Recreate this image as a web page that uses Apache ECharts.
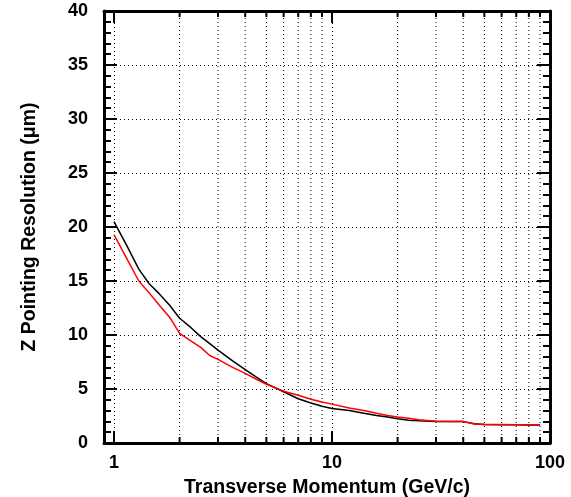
<!DOCTYPE html>
<html>
<head>
<meta charset="utf-8">
<script src="https://cdn.jsdelivr.net/npm/echarts@6/dist/echarts.min.js"></script>
<style>
  html, body { margin: 0; padding: 0; background: #fff; }
  #chart { width: 571px; height: 497px; }
</style>
</head>
<body>
<div id="chart"></div>
<script>
// Data
const momentum = [1, 1.15, 1.3, 1.45, 1.6, 1.8, 2, 2.25, 2.5, 2.75, 3, 3.5, 4, 4.5, 5, 6, 7, 8, 9, 10, 12, 14, 16, 18, 20, 22.5, 25, 30, 35, 40, 45, 50, 60, 70, 80, 90];
const resolutionBlack = [20.5, 18.2, 16.1, 14.75, 13.9, 12.75, 11.55, 10.7, 9.85, 9.2, 8.6, 7.6, 6.8, 6.1, 5.5, 4.75, 4.1, 3.7, 3.4, 3.2, 3.0, 2.75, 2.55, 2.4, 2.25, 2.1, 2.05, 2.0, 2.0, 1.98, 1.78, 1.72, 1.7, 1.68, 1.67, 1.67];
const resolutionRed = [19.3, 17.0, 15.0, 13.9, 12.85, 11.65, 10.16, 9.45, 8.85, 8.1, 7.74, 7.0, 6.44, 5.9, 5.44, 4.8, 4.42, 4.05, 3.8, 3.6, 3.25, 3.0, 2.75, 2.55, 2.4, 2.3, 2.15, 2.02, 2.0, 2.0, 1.75, 1.72, 1.72, 1.7, 1.7, 1.7];
const xMajorLabels = [1, 10, 100];
const xMinorTicks = [2, 3, 4, 5, 6, 7, 8, 9, 20, 30, 40, 50, 60, 70, 80, 90];

const FONT = '"Liberation Sans", Arial, Helvetica, sans-serif';
const dotted = { color: '#000', width: 1, type: [1, 3] };

const chart = echarts.init(document.getElementById('chart'));

const commonX = {
  type: 'log', logBase: 10, min: 0.9, max: 100,
  axisLine: { show: true, onZero: false, lineStyle: { color: '#000', width: 3 } },
  axisTick: { show: true, inside: true, length: 12, lineStyle: { color: '#000', width: 2 } }
};
const commonY = {
  type: 'value', min: 0, max: 40, interval: 5,
  axisLine: { show: true, onZero: false, lineStyle: { color: '#000', width: 3 } },
  axisTick: { show: true, inside: true, length: 13, lineStyle: { color: '#000', width: 2 } },
  minorTick: { show: true, splitNumber: 5, length: 7, lineStyle: { color: '#000', width: 2 } }
};

chart.setOption({
  animation: false,
  backgroundColor: '#fff',
  grid: { left: 104, right: 21, top: 11, bottom: 54, containLabel: false, outerBoundsMode: 'none' },
  xAxis: [
    Object.assign({}, commonX, {
      position: 'bottom',
      name: 'Transverse Momentum (GeV/c)',
      nameLocation: 'middle',
      nameGap: 35,
      nameTextStyle: { fontFamily: FONT, fontWeight: 'bold', fontSize: 19.5, color: '#000' },
      axisLabel: {
        show: true, margin: 11, color: '#000', fontFamily: FONT, fontWeight: 'bold', fontSize: 18,
        formatter: function (v) {
          for (const m of xMajorLabels) { if (Math.abs(v - m) < 1e-6 * m) return String(m); }
          return '';
        }
      },
      splitLine: { show: true, lineStyle: dotted }
    }),
    Object.assign({}, commonX, {
      position: 'top',
      axisLabel: { show: false },
      splitLine: { show: false }
    })
  ],
  yAxis: [
    Object.assign({}, commonY, {
      position: 'left',
      name: 'Z Pointing Resolution (\u03bcm)',
      nameLocation: 'middle',
      nameGap: 64,
      nameTextStyle: { fontFamily: FONT, fontWeight: 'bold', fontSize: 19.5, color: '#000' },
      axisLabel: { show: true, margin: 16, color: '#000', fontFamily: FONT, fontWeight: 'bold', fontSize: 18 },
      splitLine: { show: true, lineStyle: dotted }
    }),
    Object.assign({}, commonY, {
      position: 'right',
      axisLabel: { show: false },
      splitLine: { show: false }
    })
  ],
  series: [
    {
      type: 'custom',
      xAxisIndex: 0, yAxisIndex: 0,
      z: 1,
      silent: true,
      encode: { x: 0, y: 1 },
      data: xMinorTicks.map(v => [v, 0]),
      renderItem: function (params, api) {
        const x = api.value(0);
        const b = api.coord([x, 0]);
        const t = api.coord([x, 40]);
        return {
          type: 'group',
          children: [
            { type: 'line', shape: { x1: b[0], y1: b[1], x2: t[0], y2: t[1] }, style: { stroke: '#000', lineWidth: 1, lineDash: [1, 3] } },
            { type: 'line', shape: { x1: b[0], y1: b[1], x2: b[0], y2: b[1] - 6 }, style: { stroke: '#000', lineWidth: 2 } },
            { type: 'line', shape: { x1: t[0], y1: t[1], x2: t[0], y2: t[1] + 6 }, style: { stroke: '#000', lineWidth: 2 } }
          ]
        };
      }
    },
    {
      type: 'line', xAxisIndex: 0, yAxisIndex: 0, z: 3,
      showSymbol: false, smooth: false,
      lineStyle: { color: '#000', width: 1.5 },
      data: momentum.map((x, i) => [x, resolutionBlack[i]])
    },
    {
      type: 'line', xAxisIndex: 0, yAxisIndex: 0, z: 4,
      showSymbol: false, smooth: false,
      lineStyle: { color: '#ff0000', width: 1.5 },
      data: momentum.map((x, i) => [x, resolutionRed[i]])
    }
  ]
});
</script>
</body>
</html>
